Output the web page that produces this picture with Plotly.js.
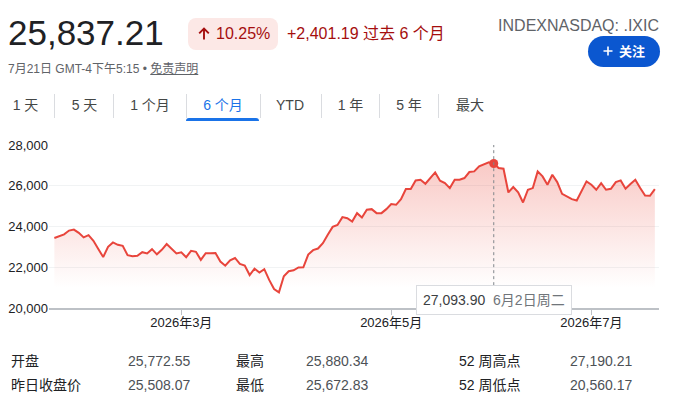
<!DOCTYPE html>
<html><head><meta charset="utf-8">
<script src="https://cdn.plot.ly/plotly-3.0.1.min.js"></script>
<style>
html,body{margin:0;padding:0;background:#fff;width:680px;height:409px;overflow:hidden;font-family:"Liberation Sans",Arial,"Noto Sans CJK SC",sans-serif;}
#chart{position:absolute;left:0;top:0;width:680px;height:409px;}
.t{position:absolute;white-space:nowrap;line-height:1;}
.sep{position:absolute;width:1px;height:24px;top:94px;background:#dadce0;}
.tab{position:absolute;top:98.1px;font-size:14px;line-height:1;color:#444746;transform:translateX(-50%);white-space:nowrap;}
.lab{color:#202124;font-size:14px;}
.val{color:#4d5156;font-size:14px;}
</style></head><body>
<div id="chart"></div>

<div class="t" style="left:8px;top:15.4px;font-size:35px;color:#202124;">25,837.21</div>
<div style="position:absolute;left:188px;top:18px;width:90px;height:32px;border-radius:8px;background:#fce8e6;"></div>
<svg style="position:absolute;left:198px;top:27px;" width="12" height="13" viewBox="0 0 12 13"><path d="M6 12.5V1.5M1.2 6.3L6 1.5l4.8 4.8" fill="none" stroke="#a50e0e" stroke-width="1.9"/></svg>
<div class="t" style="left:216px;top:25.8px;font-size:16px;color:#a50e0e;">10.25%</div>
<div class="t" style="left:287px;top:25.8px;font-size:16px;color:#a50e0e;">+2,401.19 过去 6 个月</div>
<div class="t" style="right:21px;top:18.2px;font-size:16px;color:#5f6368;">INDEXNASDAQ: .IXIC</div>
<div class="t" style="left:8px;top:63.3px;font-size:12px;color:#5f6368;">7月21日 GMT-4下午5:15 • <span style="text-decoration:underline;">免责声明</span></div>
<div style="position:absolute;left:588px;top:36px;width:72px;height:31px;border-radius:16px;background:#0b57d0;"></div>
<svg style="position:absolute;left:603px;top:46px;" width="10" height="10" viewBox="0 0 10 10"><path d="M5 0.5v9M0.5 5h9" stroke="#fff" stroke-width="1.6"/></svg>
<div class="t" style="left:619px;top:45px;font-size:13px;font-weight:bold;color:#fff;">关注</div>

<div class="tab" style="left:25.5px;">1 天</div>
<div class="sep" style="left:54px;"></div>
<div class="tab" style="left:84.5px;">5 天</div>
<div class="sep" style="left:113px;"></div>
<div class="tab" style="left:150px;">1 个月</div>
<div class="sep" style="left:186px;"></div>
<div class="tab" style="left:223px;color:#1a73e8;">6 个月</div>
<div class="sep" style="left:260px;"></div>
<div class="tab" style="left:290px;">YTD</div>
<div class="sep" style="left:321px;"></div>
<div class="tab" style="left:350.5px;">1 年</div>
<div class="sep" style="left:379px;"></div>
<div class="tab" style="left:409px;">5 年</div>
<div class="sep" style="left:438px;"></div>
<div class="tab" style="left:470px;">最大</div>
<div style="position:absolute;left:186px;top:118px;width:73px;height:3px;background:#1a73e8;border-radius:3px 3px 0 0;"></div>

<div class="t lab" style="left:11px;top:354.1px;">开盘</div>
<div class="t val" style="left:128px;top:354.1px;">25,772.55</div>
<div class="t lab" style="left:236px;top:354.1px;">最高</div>
<div class="t val" style="left:306px;top:354.1px;">25,880.34</div>
<div class="t lab" style="left:459px;top:354.1px;">52 周高点</div>
<div class="t val" style="left:570px;top:354.1px;">27,190.21</div>
<div class="t lab" style="left:11px;top:378.1px;">昨日收盘价</div>
<div class="t val" style="left:128px;top:378.1px;">25,508.07</div>
<div class="t lab" style="left:236px;top:378.1px;">最低</div>
<div class="t val" style="left:306px;top:378.1px;">25,672.83</div>
<div class="t lab" style="left:459px;top:378.1px;">52 周低点</div>
<div class="t val" style="left:570px;top:378.1px;">20,560.17</div>

<script>
// ---- data ----
const startDate = '2026-01-22';
const endDate = '2026-07-21';
const holidays = ['2026-02-16', '2026-04-03', '2026-05-25', '2026-06-19', '2026-07-03'];
const closes = [
  23436.02, 23508, 23615, 23800, 23850, 23690, 23465, 23574, 23300, 22900,
  22500, 23000, 23220, 23100, 23050, 22590, 22545, 22560, 22740, 22675,
  22887, 22634, 22855, 23140, 22890, 22680, 22730, 22495, 22805, 22756,
  22363, 22690, 22690, 22700, 22280, 22075, 22345, 22455, 22160, 22085,
  21618, 21930, 21740, 21905, 21380, 20930, 20768, 21560, 21805, 21848,
  21987, 21995, 22620, 22840, 22920, 23180, 23600, 23980, 24075, 24460,
  24410, 24246, 24656, 24443, 24820, 24852, 24656, 24656, 24852, 25098,
  25065, 25344, 25836, 25836, 26262, 26295, 26098, 26377, 26655, 26246,
  26131, 25885, 26295, 26295, 26377, 26672, 26704, 26950, 27032, 27147,
  27093.90, 26868, 26835, 25672, 25934, 25672, 25180, 25803, 25885, 26704,
  26459, 26049, 26541, 26180, 25606, 25475, 25344, 25278, 25770, 26213,
  26049, 25803, 26131, 25803, 25852, 26180, 26262, 25852, 26082, 26295,
  25885, 25520, 25508.07, 25837.21
];
const tickDates = ['2026-03-02', '2026-05-01', '2026-07-01'];
const tickLabels = ['2026年3月', '2026年5月', '2026年7月'];
const yTicks = [20000, 22000, 24000, 26000, 28000];
const hoverDate = '2026-06-02';
const hoverDateLabel = '6月2日周二';

// trading-day calendar (weekdays minus market holidays)
function tradingDays(a, b, skip) {
  const out = [];
  const d = new Date(a + 'T00:00:00Z');
  const e = new Date(b + 'T00:00:00Z');
  while (d <= e) {
    const s = d.toISOString().slice(0, 10);
    const w = d.getUTCDay();
    if (w !== 0 && w !== 6 && skip.indexOf(s) < 0) out.push(s);
    d.setUTCDate(d.getUTCDate() + 1);
  }
  return out;
}
const dates = tradingDays(startDate, endDate, holidays);
const hIdx = dates.indexOf(hoverDate);
const hVal = closes[hIdx];
const fmt = v => v.toLocaleString('en-US', {minimumFractionDigits: 2, maximumFractionDigits: 2});

const FONT = '"Liberation Sans", Arial, "Noto Sans CJK SC", sans-serif';
const RED = '#e8453c';

const traces = [
  {
    x: dates, y: closes, type: 'scatter', mode: 'lines',
    line: {color: RED, width: 2},
    fill: 'tozeroy',
    fillgradient: {type: 'vertical', start: 21000, stop: 27500,
      colorscale: [[0, 'rgba(234,67,53,0)'], [1, 'rgba(234,67,53,0.3)']]},
    hoverinfo: 'skip'
  },
  {
    x: [hoverDate], y: [hVal], type: 'scatter', mode: 'markers',
    marker: {size: 9, color: RED}, hoverinfo: 'skip'
  }
];

const layout = {
  width: 680, height: 409,
  margin: {l: 49, r: 21, t: 145, b: 101, pad: 0},
  paper_bgcolor: 'rgba(0,0,0,0)', plot_bgcolor: 'rgba(0,0,0,0)',
  showlegend: false, hovermode: false,
  font: {family: FONT, color: '#202124'},
  xaxis: {
    type: 'category', categoryorder: 'array', categoryarray: dates,
    range: [-1.1, dates.length - 1 + 0.85],
    showgrid: false, zeroline: false,
    showline: true, linecolor: '#bdc1c6', linewidth: 1.5,
    ticks: 'outside', ticklen: 5, tickcolor: '#bdc1c6', tickwidth: 1,
    ticklabelstandoff: -3,
    tickvals: tickDates, ticktext: tickLabels,
    tickfont: {size: 13, color: '#202124', family: FONT},
    fixedrange: true
  },
  yaxis: {
    range: [20000, 28000], tickvals: yTicks, tickformat: ',d',
    showgrid: true, gridcolor: '#f1f3f4', gridwidth: 1,
    zeroline: false, showline: false, ticks: '',
    tickfont: {size: 13, color: '#202124', family: FONT},
    fixedrange: true
  },
  shapes: [{
    type: 'line', xref: 'x', yref: 'paper', x0: hoverDate, x1: hoverDate, y0: 0.14, y1: 1,
    line: {color: '#80868b', width: 1, dash: 'dot'}, layer: 'above'
  }],
  annotations: [{
    xref: 'x', yref: 'paper', x: hoverDate, y: 0.05, xanchor: 'center', yanchor: 'middle',
    showarrow: false,
    text: fmt(hVal) + '&nbsp;&nbsp;<span style="color:#70757a">' + hoverDateLabel + '</span>',
    font: {size: 14, color: '#3c4043', family: FONT},
    bgcolor: '#ffffff', bordercolor: '#dadce0', borderwidth: 1, borderpad: 6
  }]
};

Plotly.newPlot('chart', traces, layout, {displayModeBar: false, staticPlot: true});
</script>
</body></html>
